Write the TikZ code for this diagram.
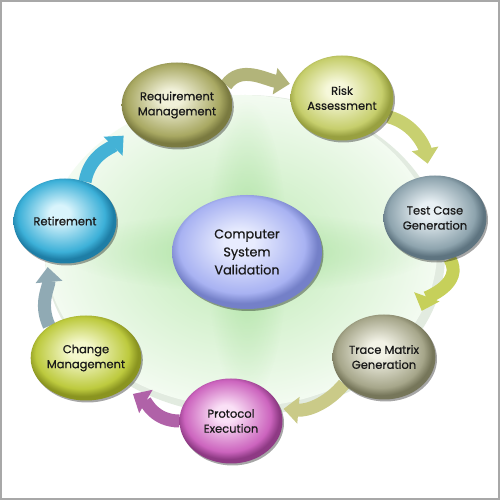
\documentclass[tikz,border=0pt]{standalone}
\usepackage{fontspec}
\setmainfont{Poppins}[FakeBold=0.6]
\usetikzlibrary{shapes.geometric,arrows.meta,shadows,fadings}
\pgfdeclarelayer{glowlayer}
\pgfdeclarelayer{arrowlayer}
\pgfsetlayers{glowlayer,arrowlayer,main}

\pgfdeclareradialshading[nlight,nbase,nrim]{glossy}{\pgfpoint{-3bp}{5bp}}{color(0bp)=(nlight); color(5bp)=(nlight); color(21bp)=(nbase); color(25bp)=(nrim); color(50bp)=(nrim)}
\tikzfading[name=glowfade, inner color=transparent!0, outer color=transparent!100]

\definecolor{framegray}{HTML}{A8A8A8}
\definecolor{rimgreen}{HTML}{E2EBE0}
\definecolor{glowin}{HTML}{BEEAB4}
\definecolor{glowout}{HTML}{F3FBF1}
\definecolor{streak}{HTML}{9EDC92}

\definecolor{aone}{HTML}{B2B47A}
\definecolor{atwo}{HTML}{C8D070}
\definecolor{athree}{HTML}{C6D05A}
\definecolor{afour}{HTML}{CACA88}
\definecolor{afive}{HTML}{B062A8}
\definecolor{asix}{HTML}{90AAB4}
\definecolor{aseven}{HTML}{44B2D6}

\tikzset{
  gnode/.style n args={3}{ellipse, inner sep=0pt, align=center,
    minimum width=103pt, minimum height=85pt,
    /utils/exec={\definecolor{nlight}{HTML}{#1}\definecolor{nbase}{HTML}{#2}\definecolor{nrim}{HTML}{#3}},
    shading=glossy,
    general shadow={fill=black, opacity=0.35, shadow xshift=1.5pt, shadow yshift=-2pt},
    font=\fontsize{11.5}{15}\selectfont, text=black!90},
  flow/.style={line width=13pt, -{Triangle[width=26pt,length=15pt]}}
}

\begin{document}
\begin{tikzpicture}[x=1pt,y=1pt]
\useasboundingbox (0,0) rectangle (500,500);

% nodes
\node[gnode={F0F0D8}{A8A862}{7A7A40}] (req) at (177,395) {Requirement\\Management};
\node[gnode={F6F8DA}{C6CE6C}{98A040}] (risk) at (342,402) {Risk\\Assessment};
\node[gnode={E8F0F4}{8EA4AE}{5E7480}] (test) at (435,282) {Test Case\\Generation};
\node[gnode={F2F2E6}{A6A68A}{76765A}] (trace) at (384,143) {Trace Matrix\\Generation};
\node[gnode={FAE0F6}{CC64BE}{8E3A84}] (proto) at (231,79) {Protocol\\Execution};
\node[gnode={F4F8CC}{BDCA3E}{8A9420}] (change) at (86,142) {Change\\Management};
\node[gnode={D8F4FC}{3CB0D8}{1E7EA6}] (retire) at (65,279) {Retirement};
\node[gnode={E8ECFE}{A8B2F2}{7480C8}, minimum width=150pt, minimum height=114pt,
      font=\fontsize{12.8}{18}\selectfont] (csv) at (247,248) {Computer\\System\\Validation};

% background glow
\begin{pgfonlayer}{glowlayer}
\fill[white] (0,0) rectangle (500,500);
\fill[rimgreen] (245,245) ellipse (200pt and 160pt);
\shade[inner color=glowin, outer color=glowout] (241,249) ellipse (196pt and 156pt);
\fill[streak, path fading=glowfade, opacity=0.6] (247,248) ellipse (185pt and 40pt);
\fill[streak, path fading=glowfade, opacity=0.6] (247,248) ellipse (40pt and 150pt);
\end{pgfonlayer}

% arrows
\begin{pgfonlayer}{arrowlayer}
\draw[flow, aone] (req.22) to[out=55, in=170] ([shift={(-3pt,1pt)}]risk.165);
\draw[flow, atwo, shorten >=12pt] (risk.-22) to[out=-15, in=100] (test.97);
\draw[flow, athree, shorten >=14pt] (test.-70) to[out=-60, in=70] (trace.45);
\draw[flow, afour, shorten >=3pt] (trace.214) to[out=230, in=-5] (proto.14);
\draw[flow, afive, shorten >=10pt] (proto.180) to[out=180, in=-30] (change.-39);
\draw[flow, asix, shorten >=6pt] (change.139) to[out=115, in=-85] (retire.246);
\draw[flow, aseven, shorten >=10pt] (retire.63) to[out=80, in=225] (req.207);
\end{pgfonlayer}

% frame
\draw[framegray, line width=2pt] (1,1) rectangle (499,499);
\end{tikzpicture}
\end{document}
